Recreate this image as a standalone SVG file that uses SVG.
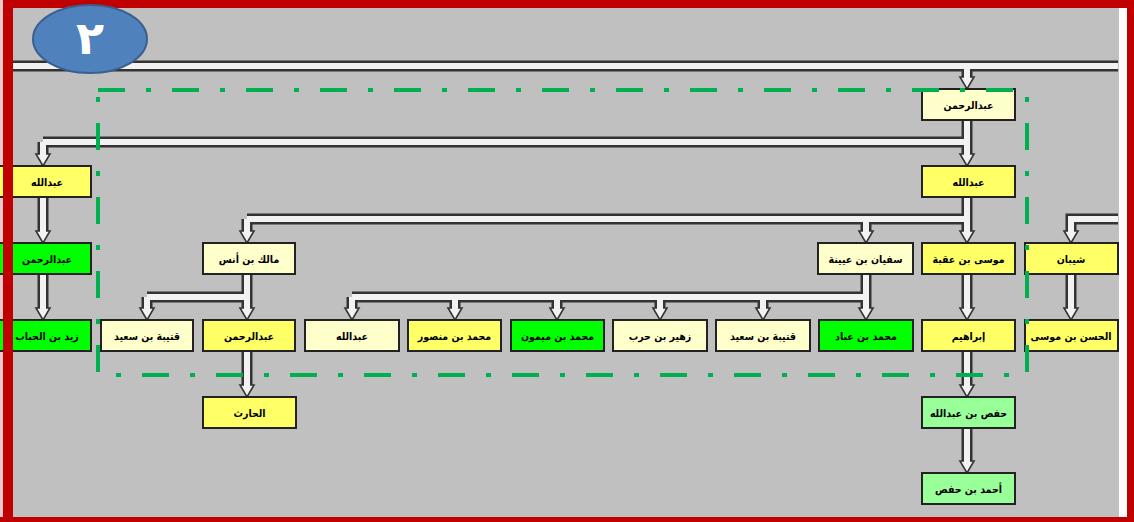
<svg xmlns="http://www.w3.org/2000/svg" xmlns:xlink="http://www.w3.org/1999/xlink" width="1134" height="522" viewBox="0 0 1134 522">
<style>
.box rect{stroke:#222;stroke-width:2}
.ly rect{fill:#ffffcc}
.y rect{fill:#ffff66}
.g rect{fill:#00ff00}
.lg rect{fill:#99ff99}
.box text{font-family:"DejaVu Sans Condensed","DejaVu Sans",sans-serif;font-stretch:condensed;font-weight:bold;font-size:10.5px;fill:#000;text-anchor:middle}
.pipeO{fill:none;stroke:#333;stroke-width:11}
.pipeI{fill:none;stroke:#f2f2f2;stroke-width:6}
</style>
<defs>
<path id="ah" d="M -3 -12 H -7 L 0 0 L 7 -12 H 3" fill="#f2f2f2" stroke="#333" stroke-width="1.6" stroke-linejoin="miter"/>
</defs>
<rect x="0" y="0" width="1134" height="522" fill="#c00000"/>
<rect x="0" y="0" width="3" height="522" fill="#ecc8c8"/>
<rect x="13" y="8" width="1114" height="509" fill="#ffffff"/>
<rect x="13" y="8" width="1106" height="509" fill="#c0c0c0"/>

<g id="connectors">
<path class="pipeO" d="M13 66H1118M967 66V78M967 120V155M43 142H967M43 142V155M967 196V232M247 219H967M247 219V232M866 219V232M1118 219H1071V232M1071 274V309M43 197V232M43 274V309M247 274V309M147 297H247M147 297V309M247 351V386M866 274V309M352 297H866M352 297V309M455 297V309M557 297V309M660 297V309M763 297V309M967 273V309M967 351V386M967 428V462"/>
<path class="pipeI" d="M13 66H1118M967 66V78M967 120V155M43 142H967M43 142V155M967 196V232M247 219H967M247 219V232M866 219V232M1118 219H1071V232M1071 274V309M43 197V232M43 274V309M247 274V309M147 297H247M147 297V309M247 351V386M866 274V309M352 297H866M352 297V309M455 297V309M557 297V309M660 297V309M763 297V309M967 273V309M967 351V386M967 428V462"/>
<use xlink:href="#ah" x="967" y="89"/>
<use xlink:href="#ah" x="967" y="166"/>
<use xlink:href="#ah" x="43" y="166"/>
<use xlink:href="#ah" x="967" y="243"/>
<use xlink:href="#ah" x="247" y="243"/>
<use xlink:href="#ah" x="866" y="243"/>
<use xlink:href="#ah" x="1071" y="243"/>
<use xlink:href="#ah" x="1071" y="320"/>
<use xlink:href="#ah" x="43" y="243"/>
<use xlink:href="#ah" x="43" y="320"/>
<use xlink:href="#ah" x="247" y="320"/>
<use xlink:href="#ah" x="147" y="320"/>
<use xlink:href="#ah" x="247" y="397"/>
<use xlink:href="#ah" x="866" y="320"/>
<use xlink:href="#ah" x="352" y="320"/>
<use xlink:href="#ah" x="455" y="320"/>
<use xlink:href="#ah" x="557" y="320"/>
<use xlink:href="#ah" x="660" y="320"/>
<use xlink:href="#ah" x="763" y="320"/>
<use xlink:href="#ah" x="967" y="320"/>
<use xlink:href="#ah" x="967" y="397"/>
<use xlink:href="#ah" x="967" y="473"/>
</g>

<g id="badge">
<ellipse cx="90" cy="39" rx="57" ry="34" fill="#4f81bd" stroke="#3a5f8f" stroke-width="2"/>
<text x="90" y="54" font-family="DejaVu Sans,sans-serif" font-weight="bold" font-size="46" fill="#ffffff" text-anchor="middle">٢</text>
</g>

<g id="n-abdulrahman-top" class="box ly"><rect x="922" y="89" width="93" height="31"/><text x="968.5" y="109">عبدالرحمن</text></g>
<g id="n-abdullah-r" class="box y"><rect x="922" y="166" width="93" height="31"/><text x="968.5" y="186">عبدالله</text></g>
<g id="n-abdullah-l" class="box y"><rect x="-2" y="166" width="93" height="31"/><text x="47" y="186">عبدالله</text></g>
<g id="n-abdulrahman-l" class="box g"><rect x="-2" y="243" width="93" height="31"/><text x="47" y="263">عبدالرحمن</text></g>
<g id="n-zaid" class="box g"><rect x="-2" y="320" width="93" height="31"/><text x="47" y="340">زيد بن الحباب</text></g>
<g id="n-malik" class="box ly"><rect x="203" y="243" width="92" height="31"/><text x="249" y="263">مالك بن أنس</text></g>
<g id="n-sufyan" class="box ly"><rect x="818" y="243" width="95" height="31"/><text x="865.5" y="263">سفيان بن عيينة</text></g>
<g id="n-musa" class="box y"><rect x="922" y="243" width="93" height="31"/><text x="968.5" y="263">موسى بن عقبة</text></g>
<g id="n-shayban" class="box y"><rect x="1025" y="243" width="93" height="31"/><text x="1071" y="263">شيبان</text></g>
<g id="n-qutayba1" class="box ly"><rect x="101" y="320" width="92" height="31"/><text x="147" y="340">قتيبة بن سعيد</text></g>
<g id="n-abdulrahman-m" class="box y"><rect x="203" y="320" width="92" height="31"/><text x="249" y="340">عبدالرحمن</text></g>
<g id="n-abdullah-m" class="box ly"><rect x="305" y="320" width="94" height="31"/><text x="352" y="340">عبدالله</text></g>
<g id="n-mansur" class="box y"><rect x="408" y="320" width="93" height="31"/><text x="454.5" y="340">محمد بن منصور</text></g>
<g id="n-maymun" class="box g"><rect x="511" y="320" width="93" height="31"/><text x="557.5" y="340">محمد بن ميمون</text></g>
<g id="n-zuhayr" class="box ly"><rect x="613" y="320" width="94" height="31"/><text x="660" y="340">زهير بن حرب</text></g>
<g id="n-qutayba2" class="box ly"><rect x="716" y="320" width="94" height="31"/><text x="763" y="340">قتيبة بن سعيد</text></g>
<g id="n-abbad" class="box g"><rect x="819" y="320" width="94" height="31"/><text x="866" y="340">محمد بن عباد</text></g>
<g id="n-ibrahim" class="box y"><rect x="922" y="320" width="93" height="31"/><text x="968.5" y="340">إبراهيم</text></g>
<g id="n-hasan" class="box y"><rect x="1025" y="320" width="93" height="31"/><text x="1071" y="340">الحسن بن موسى</text></g>
<g id="n-harith" class="box y"><rect x="203" y="397" width="93" height="31"/><text x="249.5" y="417">الحارث</text></g>
<g id="n-hafs" class="box lg"><rect x="922" y="397" width="93" height="31"/><text x="968.5" y="417">حفص بن عبدالله</text></g>
<g id="n-ahmad" class="box lg"><rect x="922" y="473" width="93" height="31"/><text x="968.5" y="493">أحمد بن حفص</text></g>

<rect id="group-frame" x="98" y="90" width="929" height="285" fill="none" stroke="#00b050" stroke-width="4" stroke-dasharray="27 21 5 21"/>

<rect x="1119" y="8" width="8" height="509" fill="#ffffff"/>
<rect x="1127" y="0" width="7" height="522" fill="#c00000"/>
<rect x="3" y="0" width="10" height="522" fill="#c00000"/>
<rect x="0" y="517" width="1134" height="5" fill="#c00000"/>
</svg>
